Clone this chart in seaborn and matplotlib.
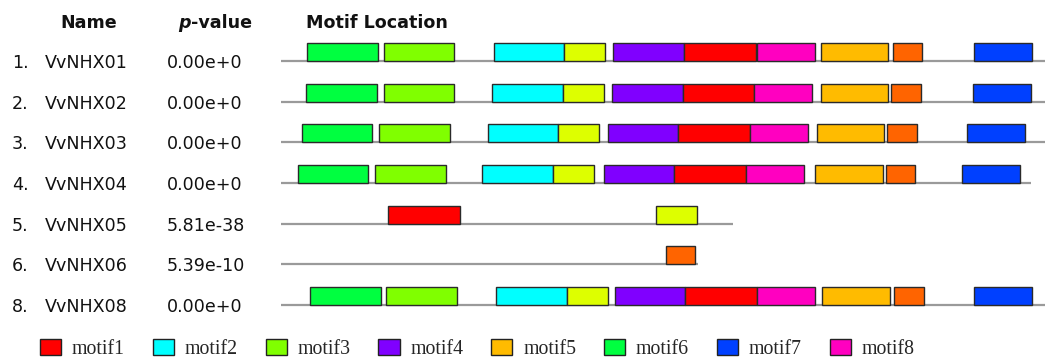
import matplotlib
matplotlib.use("Agg")
import matplotlib.pyplot as plt
from matplotlib.patches import Patch
from matplotlib.transforms import blended_transform_factory
import seaborn as sns

# ---- data -------------------------------------------------------------
row_numbers = ["1.", "2.", "3.", "4.", "5.", "6.", "8."]
seq_names = ["VvNHX01", "VvNHX02", "VvNHX03", "VvNHX04", "VvNHX05", "VvNHX06", "VvNHX08"]
p_values = ["0.00e+0", "0.00e+0", "0.00e+0", "0.00e+0", "5.81e-38", "5.39e-10", "0.00e+0"]
seq_lengths = [550, 550, 546, 532, 321, 296, 550]

motif_labels = ["motif1", "motif2", "motif3", "motif4", "motif5",
                "motif6", "motif7", "motif8", "motif9", "motif10"]
motif_colors = ["#FF0000", "#00FFFF", "#80FF00", "#8000FF", "#FFBB00",
                "#00FF40", "#0040FF", "#FF00C0", "#DDFF00", "#FF6400"]
motif_widths = [51, 50, 50, 50, 48, 50, 41, 41, 29, 21]

# motif hits per sequence: (motif number, start position)
hits_nhx01 = [(6, 19), (3, 73), (2, 151), (9, 201), (4, 236), (1, 286), (8, 338), (5, 383), (10, 434), (7, 492)]
hits_nhx02 = [(6, 18), (3, 73), (2, 150), (9, 200), (4, 235), (1, 285), (8, 336), (5, 383), (10, 433), (7, 491)]
hits_nhx03 = [(6, 15), (3, 70), (2, 147), (9, 197), (4, 232), (1, 282), (8, 333), (5, 380), (10, 430), (7, 487)]
hits_nhx04 = [(6, 12), (3, 67), (2, 143), (9, 193), (4, 229), (1, 279), (8, 330), (5, 379), (10, 429), (7, 483)]
hits_nhx05 = [(1, 76), (9, 266)]
hits_nhx06 = [(10, 273)]
hits_nhx08 = [(6, 21), (3, 75), (2, 153), (9, 203), (4, 237), (1, 287), (8, 338), (5, 384), (10, 435), (7, 492)]
all_hits = [hits_nhx01, hits_nhx02, hits_nhx03, hits_nhx04, hits_nhx05, hits_nhx06, hits_nhx08]

legend_count = 8

# ---- style ------------------------------------------------------------
sns.set_theme(style="white")
plt.rcParams["font.family"] = ["DejaVu Sans"]
palette = sns.color_palette(motif_colors)

W, H = 1045, 358
fig = plt.figure(figsize=(W / 100, H / 100), dpi=100)
fig.patch.set_facecolor("white")

track_left = 280.7          # pixel where every sequence line starts
px_per_res = 1.41
ax = fig.add_axes([track_left / W, 0, 1 - track_left / W, 1])
ax.set_xlim(0, (W - track_left) / px_per_res)
row_pitch = 40.67
first_row_px = 61
units_per_px = 1 / row_pitch
ax.set_ylim(len(seq_names) - 1 + (H - first_row_px - (len(seq_names) - 1) * row_pitch) * units_per_px,
            -first_row_px * units_per_px)
ax.axis("off")

box_h = 18 * units_per_px
rows = list(range(len(seq_names)))

# sequence lines
ax.hlines(rows, 0, seq_lengths, color="#9a9a9a", linewidth=1.6, zorder=1)

# motif boxes
for r, hits in zip(rows, all_hits):
    for m, start in hits:
        ax.barh(r - box_h, motif_widths[m - 1], left=start, height=box_h,
                align="edge", color=palette[m - 1], edgecolor="#2a2a2a",
                linewidth=1.0, zorder=2)

# ---- text columns -------------------------------------------------------
txt_tr = blended_transform_factory(fig.transFigure, ax.transData)
fs = 12.6
base_off = 7 * units_per_px
for r in rows:
    ax.text(12 / W, r + base_off, row_numbers[r], transform=txt_tr, fontsize=fs,
            va="baseline", ha="left", color="#111111")
    ax.text(45 / W, r + base_off, seq_names[r], transform=txt_tr, fontsize=fs,
            va="baseline", ha="left", color="#111111")
    ax.text(167 / W, r + base_off, p_values[r], transform=txt_tr, fontsize=fs,
            va="baseline", ha="left", color="#111111")

head_y = 1 - 28 / H
fig.text(60 / W, head_y, "Name", fontsize=fs, fontweight="bold", va="baseline", color="#111111")
p_txt = fig.text(178 / W, head_y, "p", fontsize=fs, fontweight="bold", fontstyle="italic",
                 va="baseline", color="#111111")
fig.text(306 / W, head_y, "Motif Location", fontsize=fs, fontweight="bold", va="baseline", color="#111111")
fig.canvas.draw()
bb = p_txt.get_window_extent(renderer=fig.canvas.get_renderer())
fig.text(bb.x1 / W, head_y, "-value", fontsize=fs, fontweight="bold", va="baseline", color="#111111")

# ---- legend -------------------------------------------------------------
handles = [Patch(facecolor=palette[i], edgecolor="#222222", linewidth=1.0, label=motif_labels[i])
           for i in range(legend_count)]
fig.legend(handles=handles, loc="center left", bbox_to_anchor=(40 / W, 9 / H),
           ncol=legend_count, frameon=False, borderpad=0, borderaxespad=0,
           handlelength=1.06, handleheight=0.85, handletextpad=0.55, columnspacing=1.4,
           prop={"family": "Liberation Serif", "size": 14.3})

fig.savefig("out.png", dpi=100, facecolor="white")
